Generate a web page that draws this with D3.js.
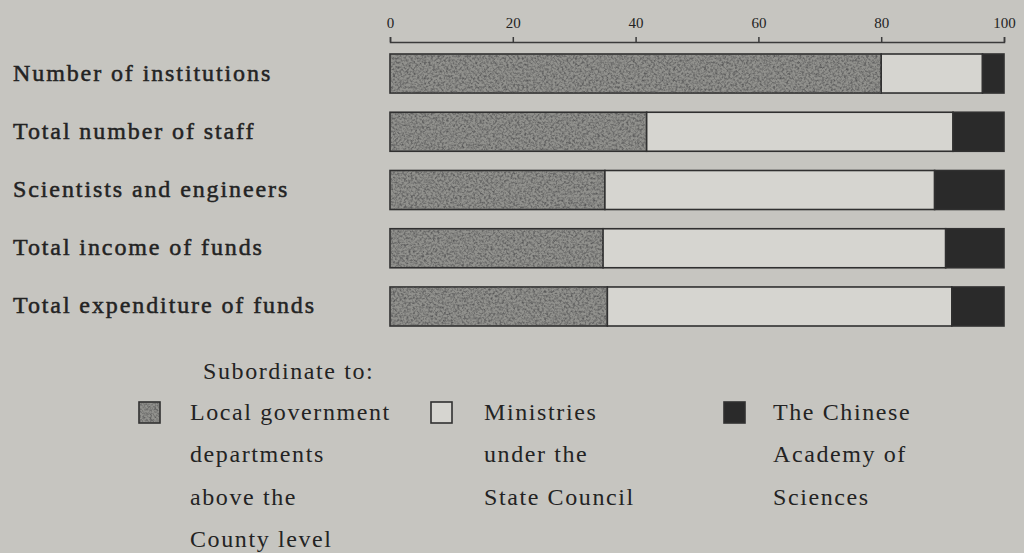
<!DOCTYPE html>
<html>
<head>
<meta charset="utf-8">
<script src="https://cdn.jsdelivr.net/npm/d3@7"></script>
<style>
    body { margin: 0; background: #c6c5c0; }
    svg { display: block; }
    text { font-family: "Liberation Serif", "DejaVu Serif", serif; fill: #232323; }
</style>
</head>
<body>
<div class="chart"></div>
<script>
// share of each category (percent)
const categories = [
    "Number of institutions",
    "Total number of staff",
    "Scientists and engineers",
    "Total income of funds",
    "Total expenditure of funds"
];
const localGov = [80, 41.8, 35, 34.7, 35.4];
const ministries = [16.5, 49.9, 53.7, 55.8, 56.1];
const academy = [3.5, 8.3, 11.3, 9.5, 8.5];
const tickValues = [0, 20, 40, 60, 80, 100];
const seriesKeys = ["local", "ministries", "academy"];
const legendTitle = "Subordinate to:";
const legendLabels = [
    ["Local government", "departments", "above the", "County level"],
    ["Ministries", "under the", "State Council"],
    ["The Chinese", "Academy of", "Sciences"]
];

const width = 1024, height = 553;

const svg = d3.select(".chart")
    .append("svg")
    .attr("width", width)
    .attr("height", height);

// speckled texture for the grey fill
const defs = svg.append("defs");
const grain = defs.append("filter")
    .attr("id", "grain")
    .attr("x", 0).attr("y", 0).attr("width", 1).attr("height", 1);
grain.append("feTurbulence")
    .attr("type", "fractalNoise")
    .attr("baseFrequency", 0.45)
    .attr("numOctaves", 3)
    .attr("seed", 7);
grain.append("feColorMatrix")
    .attr("type", "matrix")
    .attr("values", "0 0 0 0 0.1  0 0 0 0 0.1  0 0 0 0 0.1  2.2 0 0 0 -0.85");

const data = categories.map((c, i) => ({
    category: c,
    local: localGov[i],
    ministries: ministries[i],
    academy: academy[i]
}));

const stacked = d3.stack().keys(seriesKeys)(data);

const xScale = d3.scaleLinear()
    .domain([0, 100])
    .range([390, 1004]);

const yScale = d3.scaleBand()
    .domain(categories)
    .range([54, 326])
    .paddingInner(0.33);

const fills = d3.scaleOrdinal()
    .domain(seriesKeys)
    .range(["#91918d", "#d6d5d0", "#2a2a2a"]);

// axis on top
const xAxis = d3.axisTop(xScale)
    .tickValues(tickValues)
    .tickSize(5)
    .tickPadding(9);

const axisG = svg.append("g")
    .attr("class", "axis")
    .attr("transform", "translate(0, 42)")
    .call(xAxis);

axisG.select(".domain").attr("stroke", "#3a3a3a").attr("stroke-width", 1.5);
axisG.selectAll(".tick line").attr("stroke", "#3a3a3a").attr("stroke-width", 1.5);
axisG.selectAll(".tick text")
    .attr("fill", "#4a4a4a")
    .style("font-family", "'Liberation Serif', serif")
    .style("font-size", "15px");

// bars
const layers = svg.selectAll(".layer")
    .data(stacked)
    .enter()
    .append("g")
    .attr("class", "layer");

layers.selectAll("rect")
    .data(d => d.map(v => ({ key: d.key, v })))
    .enter()
    .append("rect")
    .attr("x", d => xScale(d.v[0]))
    .attr("y", d => yScale(d.v.data.category))
    .attr("width", d => xScale(d.v[1]) - xScale(d.v[0]))
    .attr("height", yScale.bandwidth())
    .attr("fill", d => fills(d.key))
    .attr("stroke", "#303030")
    .attr("stroke-width", 1.6);

svg.selectAll(".grain")
    .data(stacked[0])
    .enter()
    .append("rect")
    .attr("class", "grain")
    .attr("x", d => xScale(d[0]) + 1)
    .attr("y", d => yScale(d.data.category) + 1)
    .attr("width", d => xScale(d[1]) - xScale(d[0]) - 2)
    .attr("height", yScale.bandwidth() - 2)
    .attr("filter", "url(#grain)");

// row labels
svg.selectAll(".row-label")
    .data(categories)
    .enter()
    .append("text")
    .attr("class", "row-label")
    .attr("x", 13)
    .attr("y", d => yScale(d) + yScale.bandwidth() / 2 + 7)
    .attr("stroke", "#232323")
    .attr("stroke-width", 0.5)
    .style("font-size", "24px")
    .style("letter-spacing", "1.9px")
    .text(d => d);

// legend
svg.append("text")
    .attr("x", 203)
    .attr("y", 379)
    .style("font-size", "24px")
    .style("letter-spacing", "1.6px")
    .text(legendTitle);

const legendX = [139, 431, 724];
const legend = svg.selectAll(".legend")
    .data(seriesKeys)
    .enter()
    .append("g")
    .attr("class", "legend")
    .attr("transform", (d, i) => `translate(${legendX[i]}, 402)`);

legend.append("rect")
    .attr("width", 21)
    .attr("height", 21)
    .attr("fill", d => fills(d))
    .attr("stroke", "#303030")
    .attr("stroke-width", 1.6);

legend.filter(d => d === "local")
    .append("rect")
    .attr("x", 1).attr("y", 1)
    .attr("width", 19).attr("height", 19)
    .attr("filter", "url(#grain)");

legend.selectAll("text")
    .data((d, i) => legendLabels[i])
    .enter()
    .append("text")
    .attr("x", (d, i, n) => {
        const k = seriesKeys.indexOf(d3.select(n[i].parentNode).datum());
        return [51, 53, 49][k];
    })
    .attr("y", (d, i) => 18 + i * 42.3)
    .style("font-size", "24px")
    .style("letter-spacing", "1.6px")
    .text(d => d);
</script>
</body>
</html>
